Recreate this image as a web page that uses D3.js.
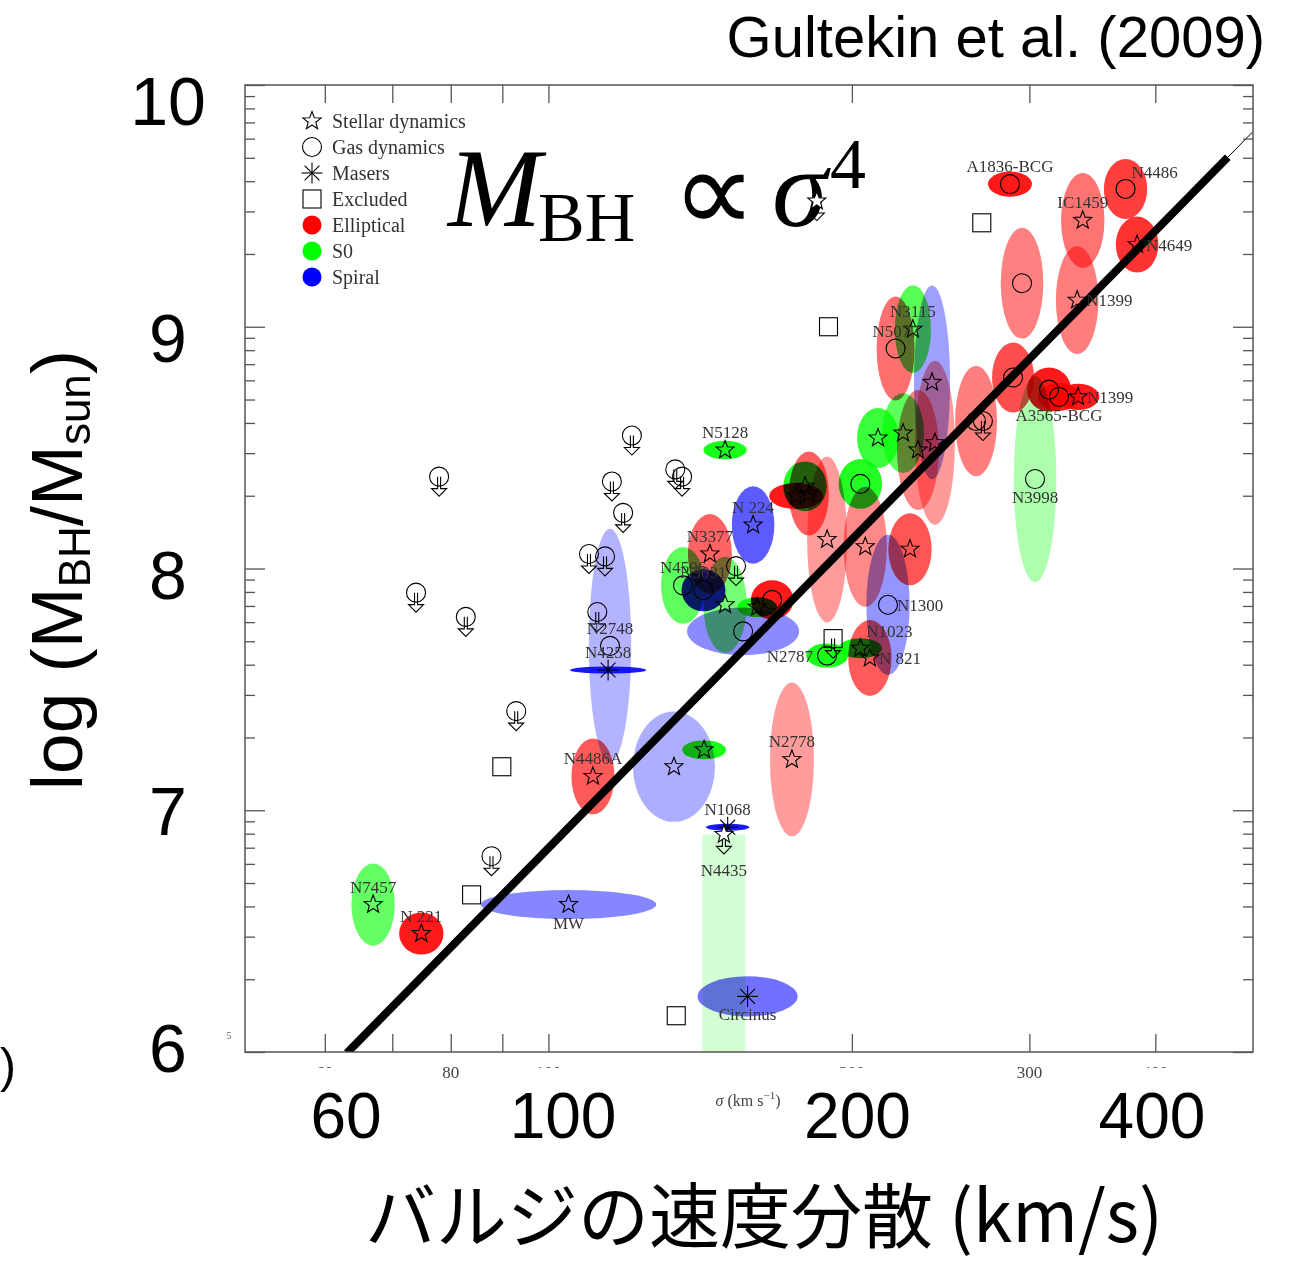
<!DOCTYPE html>
<html>
<head>
<meta charset="utf-8">
<title></title>
<script src="https://d3js.org/d3.v7.min.js"></script>
<style>
body { margin: 0; background: #fff; }
svg { display: block; }
.glabel { font-family: "Liberation Serif", "DejaVu Serif", serif; font-size: 17px; fill: #333; }
.ell { mix-blend-mode: multiply; }
</style>
</head>
<body>
<div id="chart"></div>
<script>
const W = 1289, H = 1261;

// measured black holes, one row each:
// [label, sigma (km/s), log M, error in log sigma, error in log M, method, label side]
const ellipticals = [
  ["N 221", 74.8, 6.49, .022, .087, "star", "t"],
  ["N4486A", 110.7, 7.14, .0213, .157, "star", "t"],
  ["N2778", 174.4, 7.21, .0218, .318, "star", "t"],
  ["N3377", 144.6, 8.06, .0218, .165, "star", "t"],
  ["", 166.7, 7.87, .0211, .081, "gas", ""],
  ["N 821", 208.4, 7.63, .0215, .157, "star", "r"],
  ["", 189.0, 8.12, .0198, .343, "star", ""],
  ["", 206.2, 8.09, .0215, .248, "star", ""],
  ["", 228.4, 8.08, .0215, .149, "star", ""],
  ["", 181.3, 8.31, .0198, .174, "star", ""],
  ["", 176.1, 8.30, .0268, .054, "star", ""],
  ["", 232.6, 8.49, .0208, .248, "star", ""],
  ["", 241.8, 8.52, .0198, .339, "star", ""],
  ["N5077", 221.0, 8.91, .0188, .215, "gas", "t"],
  ["", 265.6, 8.61, .0208, .228, "gas", ""],
  ["A1836-BCG", 287.0, 9.59, .0218, .052, "gas", "t"],
  ["IC1459", 338.9, 9.44, .0215, .196, "star", "t"],
  ["N4486", 373.7, 9.57, .0215, .124, "gas", "tr"],
  ["N4649", 383.7, 9.34, .0211, .116, "star", "r"],
  ["", 295.0, 9.18, .0211, .229, "gas", ""],
  ["N1399", 334.6, 9.11, .0211, .223, "star", "r"],
  ["", 289.0, 8.79, .0208, .145, "gas", ""],
  ["", 313.8, 8.74, .0218, .091, "gas", ""],
  ["A3565-BCG", 321.0, 8.71, .0211, .058, "gas", "b"],
  ["N1399", 335.3, 8.71, .0211, .054, "star", "r"]
];
const lenticulars = [
  ["N7457", 67.0, 6.61, .0215, .170, "star", "t"],
  ["", 142.7, 7.25, .0218, .039, "star", ""],
  ["N5128", 149.7, 8.49, .0215, .038, "star", "t"],
  ["N4596", 136.0, 7.93, .0218, .159, "gas", "t"],
  ["", 149.7, 7.85, .0215, .199, "star", ""],
  ["", 161.1, 7.84, .0198, .041, "star", ""],
  ["N2787", 189.0, 7.64, .0208, .050, "gas", "l"],
  ["N1023", 203.9, 7.67, .0215, .041, "star", "tr"],
  ["", 203.9, 8.35, .0215, .103, "gas", ""],
  ["", 179.7, 8.34, .0215, .103, "star", ""],
  ["", 212.3, 8.54, .0208, .124, "star", ""],
  ["", 224.8, 8.56, .0208, .165, "star", ""],
  ["N3115", 229.9, 8.99, .0179, .182, "star", "t"],
  ["N3998", 303.9, 8.37, .0211, .426, "gas", "b"]
];
const spirals = [
  ["MW", 104.7, 6.61, .087, .060, "star", "b"],
  ["N4258", 114.6, 7.58, .038, .0145, "maser", "t"],
  ["N2748", 115.1, 7.68, .021, .484, "gas", "t"],
  ["", 133.2, 7.18, .0407, .228, "star", ""],
  ["N1068", 150.6, 6.93, .0215, .0145, "maser", "t"],
  ["Circinus", 157.6, 6.23, .0496, .083, "maser", "b"],
  ["N 224", 159.6, 8.18, .0211, .160, "star", "t"],
  ["N3031", 142.5, 7.91, .0218, .087, "gas", "t"],
  ["", 156.0, 7.74, .0556, .099, "gas", ""],
  ["N1300", 217.2, 7.85, .0215, .290, "gas", "r"],
  ["", 240.2, 8.77, .0179, .401, "star", ""]
];

// upper limits from gas dynamics: [sigma, log M]
const gasLimits = [
  [77.9, 8.38], [73.9, 7.90], [82.8, 7.80], [92.9, 7.41], [87.8, 6.81],
  [109.7, 8.06], [113.8, 8.05], [111.8, 7.82], [115.6, 8.36], [118.6, 8.23],
  [121.0, 8.55], [133.6, 8.41], [135.7, 8.38], [153.5, 8.01], [269.8, 8.61]
];
// upper limits from stellar dynamics: [label, sigma, log M, error in log sigma]
const starLimits = [
  ["", 184.6, 9.52, 0],
  ["N4435", 149.3, 6.90, .0213]
];
// excluded objects: [sigma, log M, is upper limit]
const excluded = [
  [189.6, 9.00, 0], [269.1, 9.43, 0], [89.9, 7.18, 0],
  [83.9, 6.65, 0], [133.9, 6.15, 0], [191.6, 7.71, 1]
];

// fit: log M = a + b log(sigma / 200)
const fitA = 8.12, fitB = 4.24;
const fitThick = [63.1, 472];

const xTicks = [60, 70, 80, 90, 100, 200, 300, 400];
const xSmallLabels = [60, 80, 100, 200, 300, 400];
const xBigLabels = [60, 100, 200, 400];
const yMajor = [6, 7, 8, 9, 10];
const yMinor = d3.range(6, 10).flatMap(v => d3.range(2, 10).map(k => v + Math.log10(k)));

const legendMarks = ["star", "gas", "maser", "excluded"];
const legendMarkText = ["Stellar dynamics", "Gas dynamics", "Masers", "Excluded"];
const legendHosts = ["Elliptical", "S0", "Spiral"];
const hostColor = { Elliptical: "#ff0000", S0: "#00ff00", Spiral: "#0000ff" };

const x = d3.scaleLog().domain([50, 500]).range([245, 1253]);
const y = d3.scaleLinear().domain([6, 10]).range([1052, 85]);
// slide overlay labels are not exactly on the ticks
const bigX = d3.scaleLog().domain([60, 400]).range([346, 1152]);
const bigY = d3.scaleLinear().domain([6, 10]).range([1047, 100]);

const svg = d3.select('#chart').append('svg').attr('width', W).attr('height', H);
svg.append('rect').attr('width', W).attr('height', H).attr('fill', '#fff');

svg.append('defs').append('clipPath').attr('id', 'plotclip')
  .append('rect')
  .attr('x', x.range()[0]).attr('y', y.range()[1])
  .attr('width', x.range()[1] - x.range()[0]).attr('height', y.range()[0] - y.range()[1]);

// M_BH ∝ σ^4 overlay (under the data)
const formula = svg.append('g').style('font-family', '"Liberation Serif", "DejaVu Serif", serif').attr('fill', '#000');
formula.append('text').attr('x', 448).attr('y', 226).style('font-size', '112px').style('font-style', 'italic').text('M');
formula.append('text').attr('x', 538).attr('y', 241).style('font-size', '70px').text('BH');
formula.append('text').attr('x', 672).attr('y', 232)
  .style('font-family', '"DejaVu Sans", sans-serif').style('font-weight', 200)
  .style('font-size', '118px').text('∝');
formula.append('text').attr('x', 772).attr('y', 226).style('font-size', '112px').style('font-style', 'italic').text('σ');
formula.append('text').attr('x', 830).attr('y', 188).style('font-size', '72px').text('4');

const plotG = svg.append('g').attr('clip-path', 'url(#plotclip)');

function ellipseAlpha(rx, ry) {
  const a = 0.8 * Math.pow(600 / (rx * ry), 0.7);
  return Math.max(0.17, Math.min(0.9, a));
}

const hosts = [
  { name: "Elliptical", rows: ellipticals },
  { name: "S0", rows: lenticulars },
  { name: "Spiral", rows: spirals }
];

// N4435 upper limit box
starLimits.filter(d => d[3] > 0).forEach(d => {
  const x0 = x(d[1] * Math.pow(10, -d[3])), x1 = x(d[1] * Math.pow(10, d[3]));
  plotG.append('rect').attr('class', 'ell')
    .attr('x', x0).attr('width', x1 - x0)
    .attr('y', y(d[2])).attr('height', y(6) - y(d[2]))
    .attr('fill', hostColor.S0).attr('fill-opacity', 0.17);
});

hosts.forEach(h => {
  h.rows.forEach(d => {
    const cx = x(d[1]), cy = y(d[2]);
    const rx = x(d[1] * Math.pow(10, d[3])) - cx;
    const ry = y(d[2] - d[4]) - cy;
    plotG.append('ellipse').attr('class', 'ell')
      .attr('cx', cx).attr('cy', cy).attr('rx', rx).attr('ry', ry)
      .attr('fill', hostColor[h.name])
      .attr('fill-opacity', ellipseAlpha(rx, ry));
  });
});

// fit line
const fitLine = d3.line().x(d => x(d)).y(d => y(fitA + fitB * Math.log10(d / 200)));
plotG.append('path').attr('d', fitLine(x.domain())).attr('stroke', '#000').attr('stroke-width', 1).attr('fill', 'none');
plotG.append('path').attr('d', fitLine(fitThick)).attr('stroke', '#000').attr('stroke-width', 8).attr('fill', 'none');

// marker shapes
function starPath(R) {
  const r = R * 0.42, p = [];
  for (let i = 0; i < 10; i++) {
    const a = -Math.PI / 2 + i * Math.PI / 5, rr = i % 2 ? r : R;
    p.push((rr * Math.cos(a)).toFixed(2) + ',' + (rr * Math.sin(a)).toFixed(2));
  }
  return 'M' + p.join('L') + 'Z';
}
const arrowPath = 'M-1.5,0L-1.5,12L-7.5,12L0,19.5L7.5,12L1.5,12L1.5,0';

function drawMarker(g, kind, px, py, fill) {
  const m = g.append('g').attr('transform', `translate(${px},${py})`)
    .attr('stroke', '#000').attr('stroke-width', 1.1).attr('fill', fill || 'none');
  if (kind === 'star') m.append('path').attr('d', starPath(9.5));
  else if (kind === 'gas') m.append('circle').attr('r', 9.5);
  else if (kind === 'maser') {
    [0, 45, 90, 135].forEach(a => m.append('line')
      .attr('x1', -10.5).attr('x2', 10.5).attr('transform', `rotate(${a})`));
  } else if (kind === 'excluded') m.append('rect').attr('x', -9).attr('y', -9).attr('width', 18).attr('height', 18);
  return m;
}
function drawArrow(g, px, py) {
  g.append('path').attr('d', arrowPath).attr('transform', `translate(${px},${py})`)
    .attr('stroke', '#000').attr('stroke-width', 1.1).attr('fill', 'none');
}

function placeLabel(g, name, px, py, side) {
  if (!name) return;
  const t = g.append('text').attr('class', 'glabel').text(name);
  if (side === 't') t.attr('x', px).attr('y', py - 12).attr('text-anchor', 'middle');
  else if (side === 'b') t.attr('x', px).attr('y', py + 24).attr('text-anchor', 'middle');
  else if (side === 'bb') t.attr('x', px).attr('y', py + 42).attr('text-anchor', 'middle');
  else if (side === 'r') t.attr('x', px + 9).attr('y', py + 6);
  else if (side === 'tr') t.attr('x', px + 6).attr('y', py - 11);
  else if (side === 'l') t.attr('x', px - 14).attr('y', py + 6).attr('text-anchor', 'end');
}

const markG = svg.append('g');
const labelG = svg.append('g');

hosts.forEach(h => h.rows.forEach(d => {
  drawMarker(markG, d[5], x(d[1]), y(d[2]));
  placeLabel(labelG, d[0], x(d[1]), y(d[2]), d[6]);
}));

gasLimits.forEach(d => {
  drawMarker(markG, 'gas', x(d[0]), y(d[1]));
  drawArrow(markG, x(d[0]), y(d[1]));
});
starLimits.forEach(d => {
  drawArrow(markG, x(d[1]), y(d[2]));
  drawMarker(markG, 'star', x(d[1]), y(d[2]), '#fff');
  placeLabel(labelG, d[0], x(d[1]), y(d[2]), 'bb');
});
excluded.forEach(d => {
  drawMarker(markG, 'excluded', x(d[0]), y(d[1]));
  if (d[2]) drawArrow(markG, x(d[0]), y(d[1]));
});

// axes: ticks inward on all four sides
const axisColor = '#555';
function styleAxis(g) {
  g.select('.domain').remove();
  g.selectAll('.tick line').attr('stroke', axisColor).attr('stroke-width', 1.3);
  g.selectAll('.tick text').remove();
}
svg.append('g').attr('transform', `translate(0,${y.range()[0]})`)
  .call(d3.axisBottom(x).tickValues(xTicks).tickSize(-18).tickFormat('')).call(styleAxis);
svg.append('g').attr('transform', `translate(0,${y.range()[1]})`)
  .call(d3.axisTop(x).tickValues(xTicks).tickSize(-18).tickFormat('')).call(styleAxis);
[[d3.axisLeft, x.range()[0]], [d3.axisRight, x.range()[1]]].forEach(([ax, pos]) => {
  svg.append('g').attr('transform', `translate(${pos},0)`)
    .call(ax(y).tickValues(yMajor).tickSize(-20).tickFormat('')).call(styleAxis);
  svg.append('g').attr('transform', `translate(${pos},0)`)
    .call(ax(y).tickValues(yMinor).tickSize(-10).tickFormat('')).call(styleAxis);
});
svg.append('rect')
  .attr('x', x.range()[0]).attr('y', y.range()[1])
  .attr('width', x.range()[1] - x.range()[0]).attr('height', y.range()[0] - y.range()[1])
  .attr('fill', 'none').attr('stroke', axisColor).attr('stroke-width', 1.5);

// original small tick labels
svg.append('g').selectAll('text').data(xSmallLabels).join('text')
  .attr('x', d => x(d)).attr('y', 1078).attr('text-anchor', 'middle')
  .style('font-family', '"Liberation Serif", serif').style('font-size', '17px').attr('fill', '#444')
  .text(d => d);
svg.append('text').attr('x', 229).attr('y', 1039).attr('text-anchor', 'middle')
  .style('font-family', '"Liberation Serif", serif').style('font-size', '10px').attr('fill', '#666').text('5');

const sigLab = svg.append('text').attr('x', 748).attr('y', 1106).attr('text-anchor', 'middle')
  .style('font-family', '"Liberation Serif", serif').style('font-size', '16px').attr('fill', '#444');
sigLab.append('tspan').style('font-style', 'italic').text('σ');
sigLab.append('tspan').text(' (km s');
sigLab.append('tspan').attr('dy', -7).style('font-size', '11px').text('−1');
sigLab.append('tspan').attr('dy', 7).text(')');

// legend
const legend = svg.append('g');
legendMarks.forEach((m, i) => {
  drawMarker(legend, m, 312, 121 + i * 26);
  legend.append('text').attr('x', 332).attr('y', 128 + i * 26).text(legendMarkText[i])
    .style('font-family', '"Liberation Serif", serif').style('font-size', '20px').attr('fill', '#333');
});
legendHosts.forEach((hn, i) => {
  const ly = 121 + (i + legendMarks.length) * 26;
  legend.append('circle').attr('cx', 312).attr('cy', ly).attr('r', 9.5).attr('fill', hostColor[hn]);
  legend.append('text').attr('x', 332).attr('y', ly + 7).text(hn)
    .style('font-family', '"Liberation Serif", serif').style('font-size', '20px').attr('fill', '#333');
});

// slide overlay: big tick labels and titles
const big = svg.append('g').style('font-family', '"Liberation Sans", Arial, sans-serif').attr('fill', '#000');
xBigLabels.forEach(v => {
  const t = big.append('text').attr('x', bigX(v)).attr('y', 1138).attr('text-anchor', 'middle')
    .style('font-size', '64px').text(v);
  const b = t.node().getBBox();
  big.insert('rect', () => t.node())
    .attr('x', b.x - 6).attr('y', b.y - 12).attr('width', b.width + 12).attr('height', b.height + 12)
    .attr('fill', '#fff');
});
yMajor.forEach(v => {
  big.append('text').attr('x', 168).attr('y', bigY(v) + 25).attr('text-anchor', 'middle')
    .style('font-size', '68px').text(v);
});

const yTitle = big.append('text').attr('transform', 'translate(82,570) rotate(-90)')
  .attr('text-anchor', 'middle').style('font-size', '73px');
yTitle.append('tspan').text('log (M');
yTitle.append('tspan').attr('dy', 8).style('font-size', '44px').text('BH');
yTitle.append('tspan').attr('dy', -8).text('/M');
yTitle.append('tspan').attr('dy', 8).style('font-size', '44px').text('sun');
yTitle.append('tspan').attr('dy', -8).text(')');

big.append('text').attr('x', 764).attr('y', 1242).attr('text-anchor', 'middle')
  .style('font-family', '"Noto Sans CJK JP", sans-serif').style('font-size', '71px')
  .text('バルジの速度分散 (km/s)');

big.append('text').attr('x', 1265).attr('y', 57).attr('text-anchor', 'end')
  .style('font-size', '58px').text('Gultekin et al. (2009)');

big.append('text').attr('x', 0).attr('y', 1082).style('font-size', '48px').text(')');
</script>
</body>
</html>
